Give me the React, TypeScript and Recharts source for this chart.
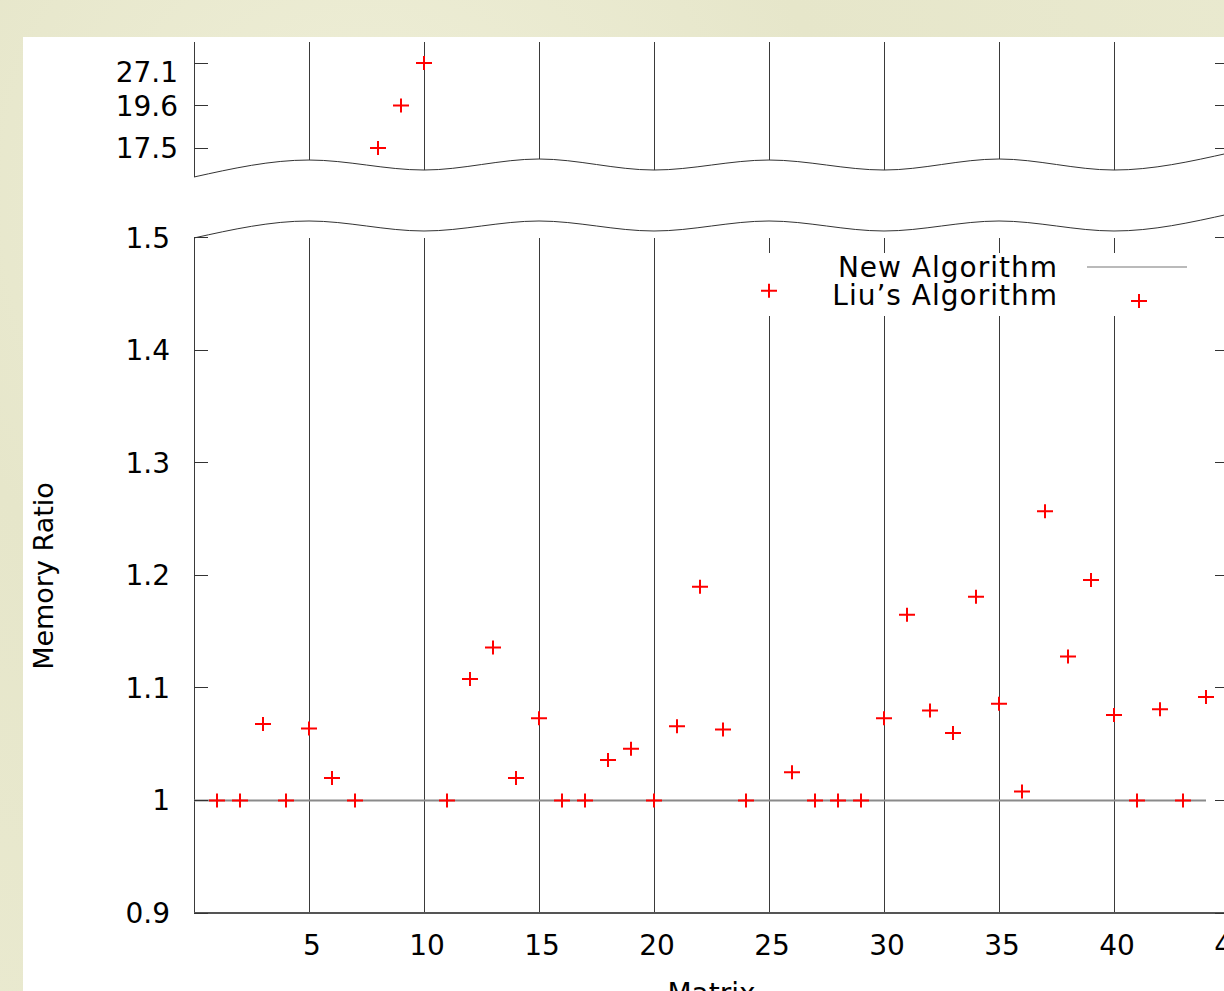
import {
  ComposedChart,
  Line,
  ReferenceArea,
  ReferenceLine,
  Scatter,
  XAxis,
  YAxis,
} from "recharts";

// matrix index -> memory ratio of Liu's algorithm
const matrices = [
  1, 2, 3, 4, 5, 6, 7, 8, 9, 10, 11, 12, 13, 14, 15, 16, 17, 18, 19, 20, 21, 22,
  23, 24, 25, 26, 27, 28, 29, 30, 31, 32, 33, 34, 35, 36, 37, 38, 39, 40, 41, 42, 43, 44,
];
const liuRatio = [
  1.0, 1.0, 1.068, 1.0, 1.064, 1.02, 1.0, 17.5, 19.6, 27.1, 1.0, 1.108, 1.136, 1.02,
  1.073, 1.0, 1.0, 1.036, 1.046, 1.0, 1.066, 1.19, 1.063, 1.0, 1.453, 1.025, 1.0, 1.0,
  1.0, 1.073, 1.165, 1.08, 1.06, 1.181, 1.086, 1.008, 1.257, 1.128, 1.196, 1.076, 1.0,
  1.081, 1.0, 1.092,
];

// new algorithm is the reference: ratio 1 across the range
const newAlgoX = [0, 44];
const newAlgoRatio = [1, 1];

// axis ticks
const xTicks = [5, 10, 15, 20, 25, 30, 35, 40, 45];
const yTicks = [0.9, 1, 1.1, 1.2, 1.3, 1.4, 1.5];
const Y_MAX = 1.6742;
const BREAK_AT = 1.5; // values above this go to the upper (broken) part

// wavy axis break, in main axis units
const breakX = [0, 5, 10, 15, 20, 25, 30, 35, 40, 45];
const breakLowerY = [1.5, 1.5151, 1.5062, 1.5151, 1.5062, 1.5151, 1.5062, 1.5151, 1.5062, 1.5213];
const breakUpperY = [1.5542, 1.5693, 1.5604, 1.5702, 1.5604, 1.5693, 1.5604, 1.5702, 1.5604, 1.5756];

const FONT = "'DejaVu Sans', sans-serif";
const FS = 28;
const PLOT_LEFT = 194;
const PLOT_RIGHT = 1229;
const MARK = 14;
const AXIS = "#333";
const GRID = "#3a3a3a";

const liuMain = matrices
  .map((x, i) => ({ x, y: liuRatio[i] }))
  .filter((d) => d.y <= BREAK_AT);
const liuTop = matrices
  .map((x, i) => ({ x, y: liuRatio[i] }))
  .filter((d) => d.y > BREAK_AT);
const newAlgo = newAlgoX.map((x, i) => ({ x, y: newAlgoRatio[i] }));
const lowerCurve = breakX.map((x, i) => ({ x, y: breakLowerY[i] }));
const upperCurve = breakX.map((x, i) => ({ x, y: breakUpperY[i] }));

const topLabelNudge: Record<string, number> = { "27.1": 9 };

function Plus(props: any) {
  const { cx, cy } = props;
  if (cx == null || cy == null) return null;
  return (
    <path
      d={`M${cx - 8},${cy}H${cx + 8}M${cx},${cy - 7}V${cy + 7}`}
      stroke="#ff0000"
      strokeWidth={2}
      fill="none"
    />
  );
}

function TickMarks({ y }: { y: number }) {
  return (
    <>
      <line x1={PLOT_LEFT} x2={PLOT_LEFT + MARK} y1={y} y2={y} stroke={AXIS} shapeRendering="crispEdges" />
      <line x1={PLOT_RIGHT - MARK} x2={PLOT_RIGHT} y1={y} y2={y} stroke={AXIS} shapeRendering="crispEdges" />
    </>
  );
}

function MainYTick(props: any) {
  const { y, payload } = props;
  return (
    <g>
      <TickMarks y={y} />
      <text x={170} y={y + 10} textAnchor="end" fontFamily={FONT} fontSize={FS} fill="#000">
        {String(payload.value)}
      </text>
    </g>
  );
}

function TopYTick(props: any) {
  const { y, payload } = props;
  const label = String(payload.value);
  return (
    <g>
      <TickMarks y={y} />
      <text
        x={178}
        y={y + 10 + (topLabelNudge[label] ?? 0)}
        textAnchor="end"
        fontFamily={FONT}
        fontSize={FS}
        fill="#000"
      >
        {label}
      </text>
    </g>
  );
}

function XTick(props: any) {
  const { x, y, payload } = props;
  return (
    <text x={x + 3} y={y + 42} textAnchor="middle" fontFamily={FONT} fontSize={FS} fill="#000">
      {String(payload.value)}
    </text>
  );
}

// key, drawn over the plot like gnuplot does
function KeyBox() {
  return (
    <svg
      width={520}
      height={64}
      style={{ position: "absolute", left: 700, top: 250, overflow: "visible" }}
    >
      <text
        x={358}
        y={27}
        textAnchor="end"
        fontFamily={FONT}
        fontSize={FS}
        letterSpacing={1}
        fill="#000"
      >
        New Algorithm
      </text>
      <line x1={387} x2={487} y1={17} y2={17} stroke="#777" strokeWidth={1.2} />
      <text
        x={358}
        y={55}
        textAnchor="end"
        fontFamily={FONT}
        fontSize={FS}
        letterSpacing={1}
        fill="#000"
      >
        Liu’s Algorithm
      </text>
      <Plus cx={439} cy={51} />
    </svg>
  );
}

export default function App() {
  return (
    <div
      style={{
        position: "absolute",
        left: 0,
        top: 0,
        width: 1224,
        height: 991,
        overflow: "hidden",
        background:
          "radial-gradient(circle at 30% 20%, #efefd8 0, #e6e6ca 40%, #ebebd2 100%)",
      }}
    >
      <div
        style={{ position: "absolute", left: 23, top: 37, right: 0, bottom: 0, background: "#fff" }}
      />
      <div style={{ position: "absolute", left: 0, top: 0 }}>
        <ComposedChart
          width={1260}
          height={1010}
          margin={{ top: 42, right: 31, bottom: 0, left: 0 }}
        >
          <XAxis
            dataKey="x"
            type="number"
            domain={[0, 45]}
            allowDataOverflow
            ticks={xTicks}
            tickSize={0}
            tickMargin={0}
            tick={<XTick />}
            height={97}
            axisLine={{ stroke: "#555", strokeWidth: 2 }}
            label={{
              content: (p: any) => (
                <text
                  x={p.viewBox.x + p.viewBox.width / 2}
                  y={p.viewBox.y + 90}
                  textAnchor="middle"
                  fontFamily={FONT}
                  fontSize={FS}
                  fill="#000"
                >
                  Matrix
                </text>
              ),
            }}
          />
          <YAxis
            yAxisId="main"
            dataKey="y"
            type="number"
            domain={[0.9, Y_MAX]}
            allowDataOverflow
            ticks={yTicks}
            width={193}
            tickSize={0}
            tickMargin={0}
            tick={<MainYTick />}
            axisLine={false}
            tickLine={false}
            label={{
              content: () => (
                <text
                  x={53}
                  y={576}
                  transform="rotate(-90 53 576)"
                  textAnchor="middle"
                  fontFamily={FONT}
                  fontSize={27}
                  fill="#000"
                >
                  Memory Ratio
                </text>
              ),
            }}
          />
          <YAxis
            yAxisId="top"
            dataKey="y"
            type="category"
            scale="point"
            padding={{ top: 21, bottom: 765 }}
            width={1}
            tickSize={0}
            tickMargin={0}
            tick={<TopYTick />}
            axisLine={false}
            tickLine={false}
          />

          {/* vertical grid + borders, lower part */}
          {breakX.map((x) => (
            <ReferenceLine
              key={`gl-${x}`}
              yAxisId="main"
              segment={[
                { x, y: 0.9 },
                { x, y: 1.5 },
              ]}
              stroke={GRID}
              strokeWidth={1}
              shapeRendering="crispEdges"
              zIndex={50}
            />
          ))}
          {/* vertical grid + borders, upper part (from the break up) */}
          {upperCurve.map((d) => (
            <ReferenceLine
              key={`gu-${d.x}`}
              yAxisId="main"
              segment={[
                { x: d.x, y: d.y },
                { x: d.x, y: Y_MAX },
              ]}
              stroke={GRID}
              strokeWidth={1}
              shapeRendering="crispEdges"
              zIndex={50}
            />
          ))}

          {/* key background hides the grid behind it */}
          <ReferenceArea
            yAxisId="main"
            x1={22}
            x2={43.9}
            y1={1.4307}
            y2={1.4867}
            fill="#fff"
            fillOpacity={1}
            stroke="none"
            zIndex={60}
          />

          <Line
            yAxisId="main"
            data={lowerCurve}
            dataKey="y"
            type="monotone"
            stroke="#333"
            strokeWidth={1}
            dot={false}
            legendType="none"
            isAnimationActive={false}
          />
          <Line
            yAxisId="main"
            data={upperCurve}
            dataKey="y"
            type="monotone"
            stroke="#333"
            strokeWidth={1}
            dot={false}
            legendType="none"
            isAnimationActive={false}
          />
          <Line
            yAxisId="main"
            name="New Algorithm"
            data={newAlgo}
            dataKey="y"
            stroke="#8a8a8a"
            strokeWidth={2}
            dot={false}
            isAnimationActive={false}
          />
          <Scatter
            yAxisId="main"
            name="Liu’s Algorithm"
            data={liuMain}
            shape={<Plus />}
            isAnimationActive={false}
          />
          <Scatter
            yAxisId="top"
            name="Liu’s Algorithm (top)"
            data={liuTop}
            shape={<Plus />}
            isAnimationActive={false}
          />
        </ComposedChart>
      </div>
      <KeyBox />
    </div>
  );
}
